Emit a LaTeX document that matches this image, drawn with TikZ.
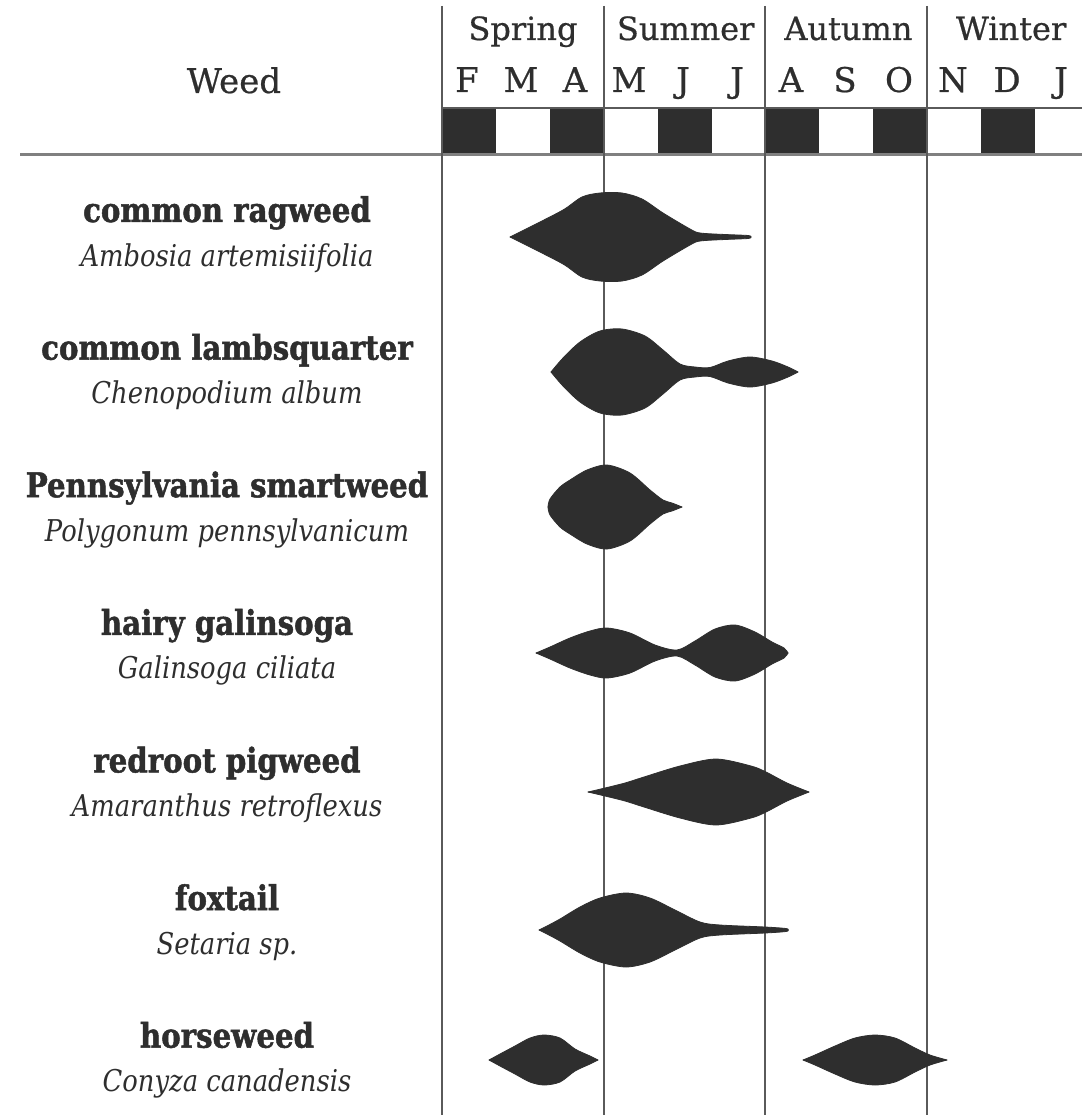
\documentclass[tikz,border=0pt]{standalone}
\usepackage{fontspec}
\setmainfont{DejaVu Serif}
\newfontfamily\condserif{DejaVu Serif}[FakeStretch=0.86,BoldFeatures={FakeBold=1.4}]
\newfontfamily\headserif{DejaVu Serif}[FakeBold=0.6]
\definecolor{ink}{HTML}{2E2E2E}
\definecolor{bloomgray}{HTML}{2E2E2E}
\definecolor{rulegray}{HTML}{5A5A5A}
\tikzset{
  common/.style={font=\condserif\bfseries\fontsize{34}{38}\selectfont,text=ink,anchor=base,inner sep=0pt},
  latin/.style ={font=\condserif\itshape\fontsize{30}{34}\selectfont,text=ink,anchor=base,inner sep=0pt},
  season/.style={font=\headserif\fontsize{32}{36}\selectfont,text=ink,anchor=base,inner sep=0pt},
  month/.style ={font=\headserif\fontsize{34}{38}\selectfont,text=ink,anchor=base,inner sep=0pt},
  rule/.style  ={draw=rulegray,line width=2pt},
  bloom/.style ={fill=bloomgray,draw=bloomgray,line width=0.8pt,line join=round},
}
% #1 = centre line, #2 = profile (x,half height)
\newcommand\flowering[2]{\foreach \s in {1,-1}
  \path[bloom,shift={(0,#1)},yscale=\s] plot[smooth] coordinates {#2} -- cycle;}

\begin{document}
\begin{tikzpicture}[x=1pt,y=-1pt]
  \fill[white] (0,0) rectangle (1082,1115);
  \useasboundingbox (0,0) rectangle (1082,1115);
  % header
  \node[month] (head) at (234,93) {Weed};
  \foreach \season [count=\i from 0] in {Spring,Summer,Autumn,Winter}
    \node[season] (season\i) at ({523+162.7*\i},40) {\season};
  \foreach \m [count=\i from 0] in {F,M,A,M,J,J,A,S,O,N,D,J}
    \node[month] (month\i) at ({467+54*\i},92) {\m};
  \foreach \i in {0,2,...,10}
    \fill[bloomgray] ({442+53.9*\i},108) rectangle +(53.9,47);
  \draw[rule,line width=1.5pt] (442,108) -- (1082,108);
  \draw[rule,line width=3pt,draw=gray] (20,155) -- (1082,155);
  \foreach \i in {0,...,3}
    \draw[rule] ({442+161.7*\i},6) -- +(0,1109);
  % weeds
  \foreach \weed/\sci [count=\i from 0] in {common ragweed/Ambosia artemisiifolia,
      common lambsquarter/Chenopodium album,
      Pennsylvania smartweed/Polygonum pennsylvanicum,
      hairy galinsoga/Galinsoga ciliata,
      redroot pigweed/Amaranthus retroflexus,
      foxtail/Setaria sp.,
      horseweed/Conyza canadensis}{
    \node[common] (weed\i) at (227,{222+137.6*\i}) {\weed};
    \node[latin] (sci\i) at (227,{266+137.6*\i}) {\sci};
  }
  % flowering periods
  \flowering{237}{(510,0) (530,10) (563,27) (582,40) (600,44) (622,44) (642,38) (663,24) (690,8) (700,4) (725,2.5) (748,1.5) (751,0)}
  \flowering{372}{(551,0) (563,14) (580,30) (600,41) (622,43) (645,36) (663,22) (680,8) (695,5) (710,4.5) (728,11) (750,15) (772,11) (788,5) (798,0)}
  \flowering{507}{(548,0) (550,8) (560,20) (570,27) (587,37) (607,42) (630,34) (650,17) (663,7) (672,4) (682,0)}
  \flowering{653}{(536,0) (550,6) (570,15) (590,22) (607,25) (630,20) (655,8) (677,3) (695,12) (715,24) (735,28) (755,21) (772,11) (784,5) (788,0)}
  \flowering{792}{(588,0) (605,4) (625,9) (644,15) (680,26) (716,33) (751,26) (766,20) (787,9) (809,0)}
  \flowering{930}{(539,0) (547,4) (560,11) (580,23) (600,32) (626,37) (650,32) (675,20) (700,8) (720,5) (765,3) (786,1.5) (788,0)}
  \flowering{1060}{(489,0) (500,6) (515,14) (530,22) (544,25) (560,22) (575,11) (590,4) (598,0)}
  \flowering{1060}{(803,0) (815,5) (835,14) (855,22) (875,25) (895,22) (915,12) (930,5) (947,0)}
\end{tikzpicture}
\end{document}
